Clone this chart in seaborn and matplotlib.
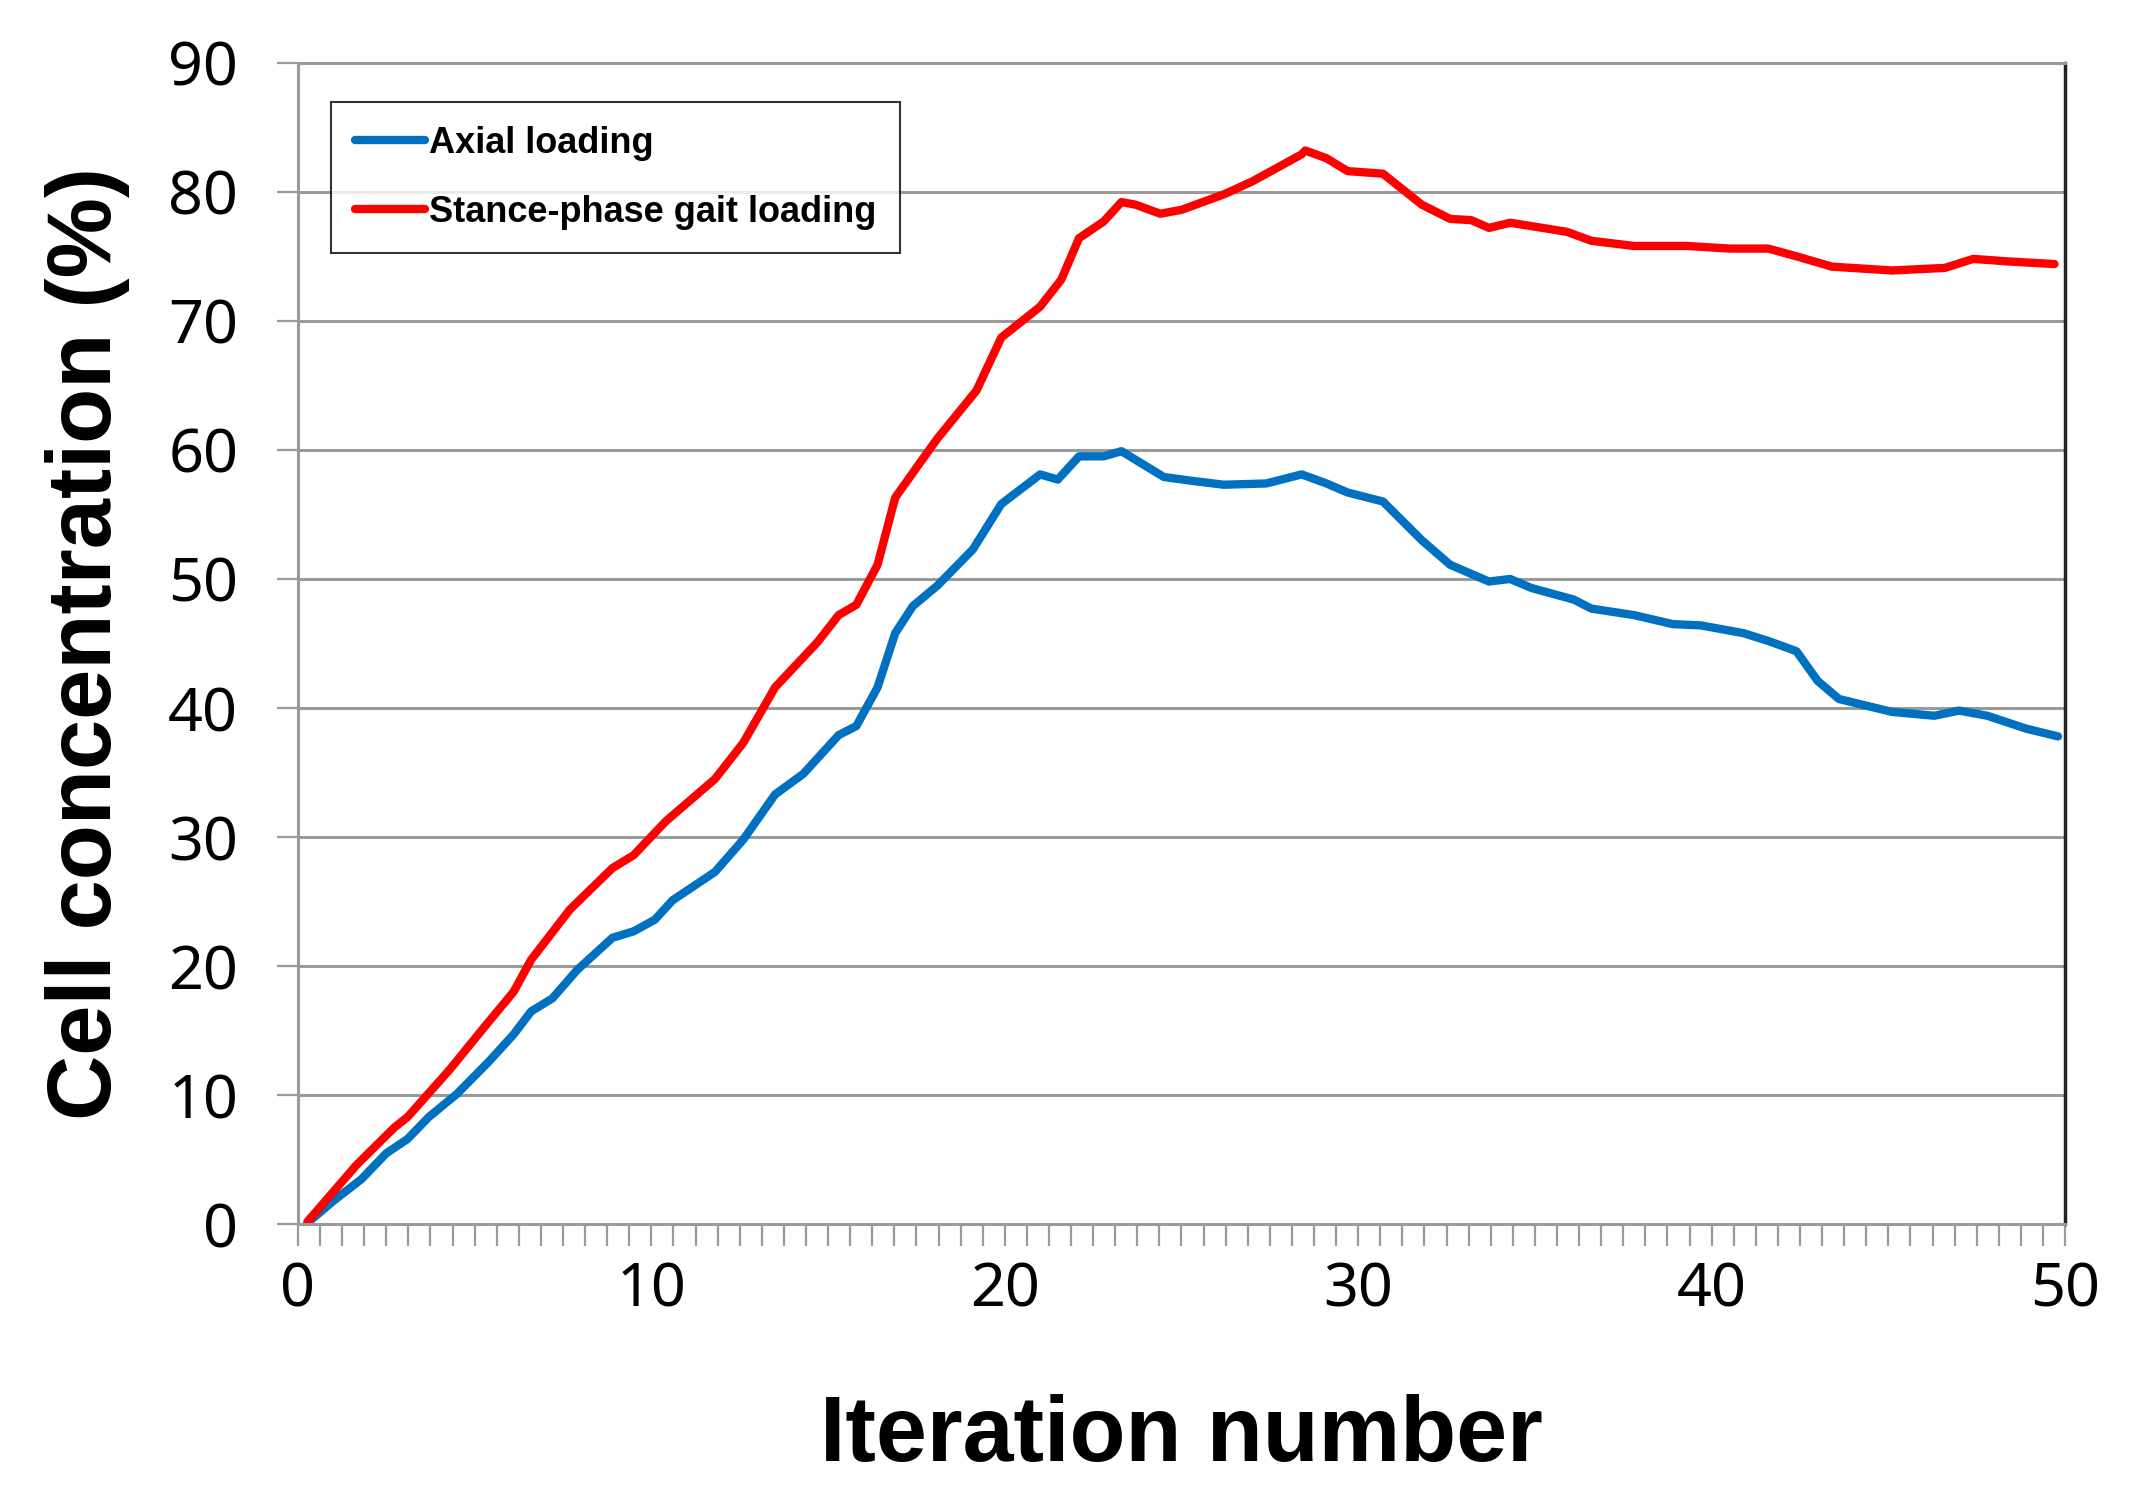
import numpy as np
import pandas as pd
import matplotlib
matplotlib.use("Agg")
import matplotlib.pyplot as plt
from matplotlib.ticker import MultipleLocator
import seaborn as sns

# values
axial_x = [0.27, 1.0, 1.8, 2.5, 3.1, 3.7, 4.5, 5.4, 6.1, 6.6, 7.2, 7.9, 8.9, 9.5,
           10.1, 10.6, 11.8, 12.6, 13.5, 14.3, 15.3, 15.8, 16.4, 16.9, 17.4, 18.1,
           19.1, 19.9, 21.0, 21.5, 22.1, 22.8, 23.3, 24.5, 25.3, 26.2, 27.4, 28.4,
           29.1, 29.7, 30.7, 31.8, 32.6, 33.7, 34.3, 34.9, 36.1, 36.6, 37.8, 38.9,
           39.7, 40.9, 41.6, 42.4, 43.0, 43.6, 45.1, 46.3, 47.0, 47.8, 48.9, 49.8]
axial_y = [0.1, 1.8, 3.5, 5.5, 6.6, 8.3, 10.1, 12.6, 14.7, 16.5, 17.5, 19.7, 22.2, 22.7,
           23.6, 25.1, 27.3, 29.8, 33.3, 34.9, 37.9, 38.6, 41.6, 45.8, 47.9, 49.5,
           52.3, 55.8, 58.1, 57.7, 59.5, 59.5, 59.9, 57.9, 57.6, 57.3, 57.4, 58.1,
           57.4, 56.7, 56.0, 53.0, 51.1, 49.8, 50.0, 49.3, 48.4, 47.7, 47.2, 46.5,
           46.4, 45.8, 45.2, 44.4, 42.1, 40.7, 39.7, 39.4, 39.8, 39.4, 38.4, 37.8]

gait_x = [0.27, 1.66, 2.73, 3.1, 4.3, 5.4, 6.1, 6.6, 7.7, 8.9, 9.5, 10.4, 11.8, 12.6,
          13.5, 14.7, 15.3, 15.8, 16.4, 16.9, 17.6, 18.1, 19.2, 19.9, 21.0, 21.6,
          22.1, 22.8, 23.3, 23.7, 24.4, 25.0, 26.2, 27.0, 28.4, 28.5, 29.1, 29.7,
          30.7, 31.8, 32.6, 33.2, 33.7, 34.3, 35.9, 36.6, 37.8, 39.3, 40.5, 41.6,
          42.4, 43.4, 45.1, 46.6, 47.4, 48.4, 49.7]
gait_y = [0.2, 4.6, 7.5, 8.3, 12.0, 15.7, 18.0, 20.5, 24.4, 27.6, 28.6, 31.2, 34.5, 37.3,
          41.6, 45.1, 47.2, 48.0, 51.1, 56.3, 59.0, 60.9, 64.6, 68.7, 71.1, 73.2,
          76.4, 77.7, 79.2, 79.0, 78.3, 78.6, 79.8, 80.8, 82.9, 83.2, 82.6, 81.6,
          81.4, 79.0, 77.9, 77.8, 77.2, 77.6, 76.9, 76.2, 75.8, 75.8, 75.6, 75.6,
          75.0, 74.2, 73.9, 74.1, 74.8, 74.6, 74.4]

series_names = ["Axial loading", "Stance-phase gait loading"]
series_colors = ["#0070C0", "#FF0000"]
x_ticks = [0, 10, 20, 30, 40, 50]
y_ticks = [0, 10, 20, 30, 40, 50, 60, 70, 80, 90]

df = pd.concat([
    pd.DataFrame({"iteration": axial_x, "conc": axial_y, "series": series_names[0]}),
    pd.DataFrame({"iteration": gait_x, "conc": gait_y, "series": series_names[1]}),
], ignore_index=True)

sns.set_theme(style="white")
plt.rcParams['font.family'] = ['Noto Sans', 'DejaVu Sans']
plt.rcParams['text.color'] = 'black'
plt.rcParams['axes.labelcolor'] = 'black'
plt.rcParams['xtick.labelcolor'] = 'black'
plt.rcParams['ytick.labelcolor'] = 'black'
bold_family = ['Liberation Sans', 'DejaVu Sans']

grid_gray = "#9a9a9a"
line_w = 6.0

fig, ax = plt.subplots(figsize=(21.34, 14.93), dpi=100)
fig.subplots_adjust(left=0.1396, right=0.9677, top=0.958, bottom=0.180)

sns.lineplot(data=df, x="iteration", y="conc", hue="series", hue_order=series_names,
             palette=dict(zip(series_names, series_colors)), linewidth=line_w,
             estimator=None, sort=False, ax=ax,
             solid_capstyle="round", solid_joinstyle="round")

ax.set_xlim(0, 50)
ax.set_ylim(0, 90)
ax.set_xticks(x_ticks)
ax.set_yticks(y_ticks)
ax.xaxis.set_minor_locator(MultipleLocator(0.625))

ax.set_axisbelow(True)
ax.yaxis.grid(True, color=grid_gray, linewidth=2.2)
ax.xaxis.grid(False)

for side in ["left", "bottom", "top"]:
    ax.spines[side].set_color(grid_gray)
    ax.spines[side].set_linewidth(2.2)
ax.spines["right"].set_color("#222222")
ax.spines["right"].set_linewidth(2.5)

ax.tick_params(axis="x", which="both", direction="out", length=16, width=1.6,
               color=grid_gray, bottom=True, labelsize=44, pad=10)
ax.tick_params(axis="y", which="major", direction="out", length=15, width=1.6,
               color=grid_gray, left=True, labelsize=44, pad=28)

ax.set_xlabel("Iteration number", fontsize=66, fontweight="bold", family=bold_family)
ax.set_ylabel("Cell concentration (%)", fontsize=65, fontweight="bold", family=bold_family)
ax.xaxis.set_label_coords(0.5, -0.146)
ax.yaxis.set_label_coords(-0.095, 0.5)

leg = ax.legend(loc="upper left", bbox_to_anchor=(0.019, 0.966), borderaxespad=0,
                frameon=True, fancybox=False, edgecolor="black",
                prop=dict(family=bold_family, weight="bold", size=26), handlelength=1.95,
                handletextpad=0.1, labelspacing=0.95, borderpad=0.65)
leg.get_frame().set_linewidth(1.5)
for line in leg.get_lines():
    line.set_linewidth(line_w)
    line.set_solid_capstyle("round")

fig.savefig("out.png", dpi=100)
